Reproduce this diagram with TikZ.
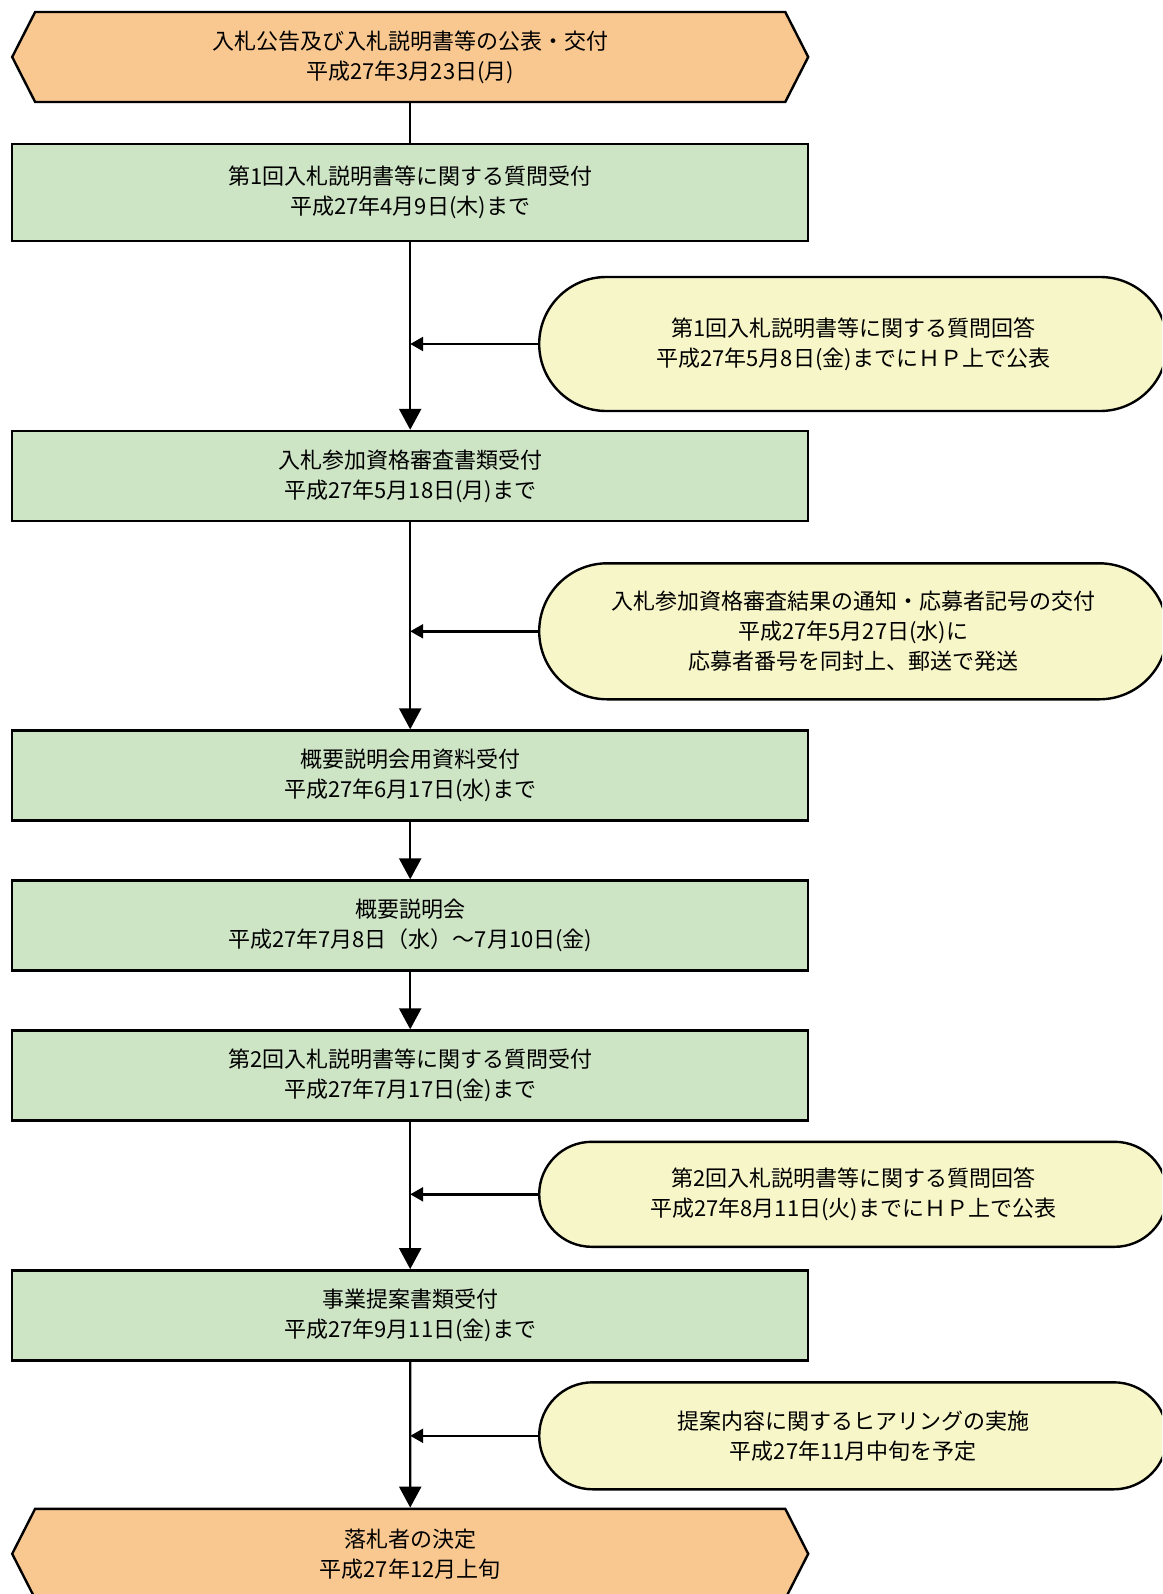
\documentclass[tikz,border=0pt]{standalone}
\usepackage{fontspec}
\newfontfamily\jpfont{Noto Sans CJK JP}
\usepackage{tikz}
\usetikzlibrary{shapes.symbols, arrows.meta, positioning}
\definecolor{apricot}{RGB}{249,200,145}
\definecolor{mintgreen}{RGB}{205,228,197}
\definecolor{paleyellow}{RGB}{247,246,200}
\tikzstyle{terminal} = [signal, signal to=west and east, signal pointer angle=126, minimum width=398pt, minimum height=45pt, inner sep=0pt, text centered, align=center, draw=black, line width=1.2pt, fill=apricot]
\tikzstyle{process} = [rectangle, minimum width=398pt, minimum height=45pt, text centered, align=center, draw=black, line width=1.2pt, fill=mintgreen]
\tikzstyle{notice} = [rectangle, minimum width=314pt, text centered, align=center, draw=black, line width=1.2pt, fill=paleyellow]
\tikzstyle{arrow} = [line width=1.2pt, -{Triangle[length=10.5pt, width=11pt]}]
\tikzstyle{sidearrow} = [line width=1.2pt, -{Triangle[length=6.5pt, width=7pt]}]

\begin{document}
\begin{tikzpicture}[node distance=75pt, font=\jpfont\fontsize{11pt}{15pt}\selectfont]
	\useasboundingbox (0,0) rectangle (581pt,-797pt);
	\clip (0,0) rectangle (581pt,-797pt);
	\node (start) [terminal] at (205.1pt,-28.5pt) {入札公告及び入札説明書等の公表・交付\\平成27年3月23日(月)};
	\node (n1) [process, below of=start, yshift=7.15pt, minimum height=48.5pt] {第1回入札説明書等に関する質問受付\\平成27年4月9日(木)まで};
	\node (ans1) [notice, below of=n1, xshift=221.5pt, yshift=-0.65pt, minimum height=67pt, rounded corners=33.5pt] {第1回入札説明書等に関する質問回答\\平成27年5月8日(金)までにＨＰ上で公表};
	\node (n2) [process, below of=n1, yshift=-66.65pt] {入札参加資格審査書類受付\\平成27年5月18日(月)まで};
	\node (ans2) [notice, below of=n2, xshift=221.5pt, yshift=-2.65pt, minimum height=68pt, rounded corners=34pt] {入札参加資格審査結果の通知・応募者記号の交付\\平成27年5月27日(水)に\\応募者番号を同封上、郵送で発送};
	\node (n3) [process, below of=n2, yshift=-74.75pt] {概要説明会用資料受付\\平成27年6月17日(水)まで};
	\node (n4) [process, below of=n3] {概要説明会\\平成27年7月8日（水）～7月10日(金)};
	\node (n5) [process, below of=n4] {第2回入札説明書等に関する質問受付\\平成27年7月17日(金)まで};
	\node (ans3) [notice, below of=n5, xshift=221.5pt, yshift=15.6pt, minimum height=52.5pt, rounded corners=26.25pt] {第2回入札説明書等に関する質問回答\\平成27年8月11日(火)までにＨＰ上で公表};
	\node (n6) [process, below of=n5, yshift=-44.9pt] {事業提案書類受付\\平成27年9月11日(金)まで};
	\node (ans4) [notice, below of=n6, xshift=221.5pt, yshift=14.75pt, minimum height=53.5pt, rounded corners=26.75pt] {提案内容に関するヒアリングの実施\\平成27年11月中旬を予定};
	\node (stop) [terminal, below of=n6, yshift=-44.25pt] {落札者の決定\\平成27年12月上旬};
	%lines
	\draw [line width=1.2pt] (start) -- (n1);
	\draw [arrow] (n1) -- (n2);
	\draw [arrow] (n2) -- (n3);
	\draw [arrow] (n3) -- (n4);
	\draw [arrow] (n4) -- (n5);
	\draw [arrow] (n5) -- (n6);
	\draw [arrow] (n6) -- (stop);
	\draw [sidearrow] (ans1.west) -- (ans1.west -| n1.south);
	\draw [sidearrow] (ans2.west) -- (ans2.west -| n2.south);
	\draw [sidearrow] (ans3.west) -- (ans3.west -| n5.south);
	\draw [sidearrow] (ans4.west) -- (ans4.west -| n6.south);
\end{tikzpicture}
\end{document}
